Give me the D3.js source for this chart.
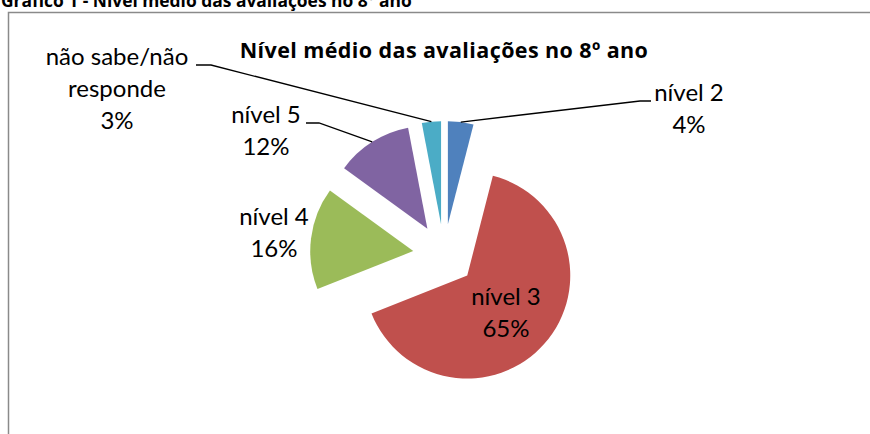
<!DOCTYPE html>
<html>
<head>
<meta charset="utf-8">
<style>
    body { margin: 0; background: #fff; }
    svg { display: block; font-family: "Lato", "Open Sans", sans-serif; }
    .slice-label { font-size: 24px; fill: #000; }
    .bold-title { font-family: "Open Sans", sans-serif; font-weight: bold; }
    .leader { fill: none; stroke: #000; stroke-width: 1.3px; }
</style>
</head>
<body>
<svg width="870" height="434"></svg>

<script src="https://cdn.jsdelivr.net/npm/d3@7"></script>
<script>
    // data
    const categories = ["nível 2", "nível 3", "nível 4", "nível 5", "não sabe/não responde"]
    const values = [4, 65, 16, 12, 3]
    const colors = ["#4F81BD", "#C0504D", "#9BBB59", "#8064A2", "#4BACC6"]
    // label text lines per slice (name split as in the picture)
    const labelLines = [["nível 2"], ["nível 3"], ["nível 4"], ["nível 5"], ["não sabe/não", "responde"]]

    // layout
    const cx = 444, cy = 255
    const radius = 103
    const explode = 31
    const lineH = 32
    // label centre points (x of text centre, y of first baseline)
    const labelPos = [[689, 101], [506, 305], [274, 225], [266, 123], [117, 65]]
    // labels that get a leader line: index -> x of the short horizontal part
    const leaders = { 0: [640, 651], 3: [319, 306], 4: [211, 196] }

    let svg = d3.select("svg")

    // cropped caption above the chart frame
    svg.append("text")
        .attr("class", "bold-title")
        .attr("x", 1)
        .attr("y", 7)
        .style("font-size", "17.4px")
        .text("Gráfico  1 - Nível médio das avaliações no 8º ano")

    // chart frame (runs past the right and bottom edges)
    svg.append("rect")
        .attr("x", 8.5)
        .attr("y", 12.5)
        .attr("width", 900)
        .attr("height", 500)
        .style("fill", "#fff")
        .style("stroke", "#8a8a8a")
        .style("stroke-width", 1.5)

    svg.append("text")
        .attr("class", "bold-title")
        .attr("x", cx)
        .attr("y", 58)
        .attr("text-anchor", "middle")
        .style("font-size", "21.5px")
        .style("letter-spacing", "0.4px")
        .text("Nível médio das avaliações no 8º ano")

    let pie = d3.pie().sort(null).value(d => d)
    let arcs = pie(values)
    let arc = d3.arc().innerRadius(0).outerRadius(radius)

    function offset(d) {
        let a = (d.startAngle + d.endAngle) / 2
        return [explode * Math.sin(a), -explode * Math.cos(a)]
    }

    let g = svg.append("g").attr("transform", `translate(${cx},${cy})`)

    g.selectAll("path")
        .data(arcs)
        .join("path")
        .attr("transform", d => `translate(${offset(d)})`)
        .attr("d", arc)
        .style("fill", (d, i) => colors[i])

    // leader lines: from the slice's outer edge at its mid angle to the label
    Object.keys(leaders).forEach(k => {
        let d = arcs[k]
        let a = (d.startAngle + d.endAngle) / 2
        let o = offset(d)
        let px = cx + o[0] + radius * Math.sin(a)
        let py = cy + o[1] - radius * Math.cos(a)
        let ly = labelPos[k][1]
        let pts = [[px, py], [leaders[k][0], ly], [leaders[k][1], ly]]
        svg.append("path")
            .attr("class", "leader")
            .attr("d", d3.line()(pts))
    })

    // labels
    arcs.forEach((d, i) => {
        let lines = labelLines[i].concat([d.data + "%"])
        let t = svg.append("text")
            .attr("class", "slice-label")
            .attr("text-anchor", "middle")
        lines.forEach((s, j) => {
            t.append("tspan")
                .attr("x", labelPos[i][0])
                .attr("y", labelPos[i][1] + j * lineH)
                .text(s)
        })
    })
</script>
</body>
</html>
